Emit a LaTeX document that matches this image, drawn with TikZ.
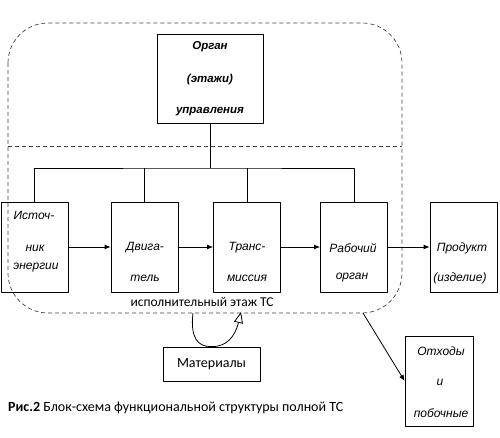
\documentclass[tikz,border=0pt]{standalone}
\usepackage{fontspec}
\setmainfont{Carlito}
\newfontfamily\boxfont{Liberation Sans}
\usetikzlibrary{arrows.meta}
\begin{document}
\begin{tikzpicture}[x=1pt,y=-1pt,line join=round,>={Latex[length=6pt,width=5pt]}]
	\tikzset{blk/.style={draw,line width=0.8pt,inner sep=0pt,minimum width=67,minimum height=90},
		itl/.style={font=\boxfont\itshape\fontsize{12}{14}\selectfont,inner sep=0pt},
		bit/.style={font=\boxfont\bfseries\itshape\fontsize{11.5}{13}\selectfont,inner sep=0pt},
		frm/.style={draw=black!75,dash pattern=on 4pt off 3pt,line width=0.7pt},
		lnk/.style={line width=0.8pt}}
	\useasboundingbox (0,0) rectangle (500,438);
	\draw[frm,rounded corners=40] (8,23) rectangle (402,313);
	\draw[frm] (8,146) -- (402,146);
	\node[blk,minimum width=106,minimum height=89] (ctrl) at (210,78.5) {};
	\node[blk] (src) at (34.5,247) {};
	\node[blk] (dvg) at (144.5,247) {};
	\node[blk] (trn) at (247,247) {};
	\node[blk] (rab) at (354,247) {};
	\node[blk] (prd) at (463.5,247) {};
	\node[blk,minimum width=68] (otx) at (439,381) {};
	\node[blk,minimum width=97,minimum height=34,font=\fontsize{14}{16}\selectfont] (mat) at (211.5,364) {Материалы};
	\foreach \x/\y/\t [count=\i] in {210/47/Орган,210/80/(этажи),210/112/управления}
		\node[bit] (c\i) at (\x,\y) {\t};
	\foreach \x/\y/\t [count=\i] in {34/215/Источ-,35/248/ник,36/268/энергии,145/248/Двига-,145/278/тель,
		247/248/Транс-,247/278/миссия,353/248/Рабочий,352/278/орган,462/248/Продукт,460/278/(изделие),
		441/351/Отходы,440/382/и,441/413/побочные}
		\node[itl] (t\i) at (\x,\y) {\t};
	\coordinate (bus) at (210,168);
	\draw[lnk] (ctrl.south) -- (bus);
	\draw[lnk] (src.north) |- (bus) -| (rab.north);
	\foreach \n in {dvg,trn}
		\draw[lnk] (\n.north) -- (\n.north |- bus);
	\foreach \a/\b in {src/dvg,dvg/trn,trn/rab,rab/prd}
		\draw[lnk,->] (\a) -- (\b);
	\node[font=\fontsize{13.5}{15}\selectfont,inner sep=0pt] (ex) at (202,302) {исполнительный этаж ТС};
	\coordinate (inl) at (193,313);
	\coordinate (inr) at (241,312);
	\draw[lnk,-{Triangle[open,length=11pt,width=9pt]}] (inl) .. controls (190,338) and (198,347) .. (mat.north) .. controls (226,347) and (235,337) .. (inr);
	\coordinate (out) at (363,313);
	\draw[lnk,->] (out) -- (otx.west);
	\node[anchor=west,font=\fontsize{14}{16}\selectfont,inner sep=0pt] (cap) at (8,408) {\textbf{Рис.2} Блок-схема функциональной структуры полной ТС};
\end{tikzpicture}
\end{document}
